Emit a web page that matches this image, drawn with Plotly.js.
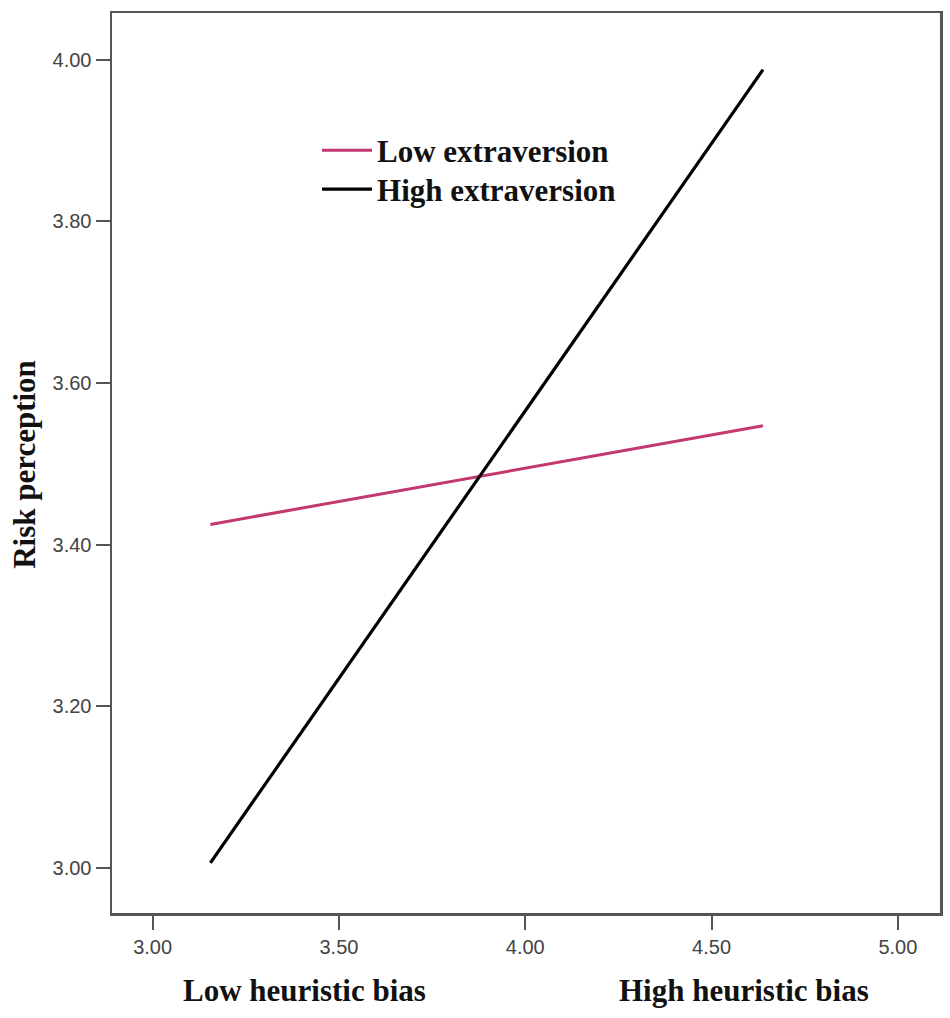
<!DOCTYPE html>
<html>
<head>
<meta charset="utf-8">
<script src="https://cdn.plot.ly/plotly-3.0.1.min.js"></script>
<style>html,body{margin:0;padding:0;background:#fff;}#chart{width:950px;height:1018px;}</style>
</head>
<body>
<div id="chart"></div>
<script>
// Data
const heuristicBias = [3.155, 4.638];          // low / high heuristic bias (x)
const lowExtraversion = [3.425, 3.547];        // risk perception
const highExtraversion = [3.006, 3.988];       // risk perception
const seriesNames = ["Low extraversion", "High extraversion"];
const xTicks = [3.00, 3.50, 4.00, 4.50, 5.00];
const yTicks = [3.00, 3.20, 3.40, 3.60, 3.80, 4.00];
const xGroupLabels = ["Low heuristic bias", "High heuristic bias"];
const xGroupPositions = [3.408, 4.586];
const yTitle = "Risk perception";

const serif = "Liberation Serif, Times New Roman, serif";
const sans = "Liberation Sans, Arial, sans-serif";

const traces = [
  {x: heuristicBias, y: lowExtraversion, mode: "lines", name: "<b>" + seriesNames[0] + "</b>",
   legend: "legend", line: {color: "#c2386f", width: 3}},
  {x: heuristicBias, y: highExtraversion, mode: "lines", name: "<b>" + seriesNames[1] + "</b>",
   legend: "legend2", line: {color: "#000000", width: 3.2}}
];

const axisCommon = {
  showgrid: false, zeroline: false, showline: true, mirror: true,
  linecolor: "#555", linewidth: 2.5, ticks: "outside", ticklen: 14,
  tickwidth: 2, tickcolor: "#555", tickformat: ".2f",
  tickfont: {family: sans, size: 20, color: "#444"}
};

const legendCommon = {
  x: 0.2476, xanchor: "left", yanchor: "top",
  bgcolor: "rgba(0,0,0,0)", borderwidth: 0, itemwidth: 50,
  font: {family: serif, size: 31, color: "#111"}
};

const layout = {
  width: 950, height: 1018,
  margin: {l: 112, r: 10, t: 13, b: 105},
  paper_bgcolor: "#fff", plot_bgcolor: "#fff",
  showlegend: true,
  legend: Object.assign({}, legendCommon, {y: 0.8772}),
  legend2: Object.assign({}, legendCommon, {y: 0.8339}),
  xaxis: Object.assign({}, axisCommon, {range: [2.891, 5.113], tickvals: xTicks}),
  yaxis: Object.assign({}, axisCommon, {range: [2.944, 4.058], tickvals: yTicks}),
  annotations: [
    {text: "<b>" + yTitle + "</b>", xref: "paper", yref: "paper", x: -0.105, y: 0.498,
     xanchor: "center", yanchor: "middle",
     textangle: -90, showarrow: false, font: {family: serif, size: 31, color: "#111"}},
    {text: "<b>" + xGroupLabels[0] + "</b>", xref: "x", yref: "paper", x: xGroupPositions[0], y: -0.0856,
     xanchor: "center", yanchor: "middle",
     showarrow: false, font: {family: serif, size: 31, color: "#111"}},
    {text: "<b>" + xGroupLabels[1] + "</b>", xref: "x", yref: "paper", x: xGroupPositions[1], y: -0.0856,
     xanchor: "center", yanchor: "middle",
     showarrow: false, font: {family: serif, size: 31, color: "#111"}}
  ]
};

Plotly.newPlot("chart", traces, layout, {displayModeBar: false, staticPlot: true});
</script>
</body>
</html>
